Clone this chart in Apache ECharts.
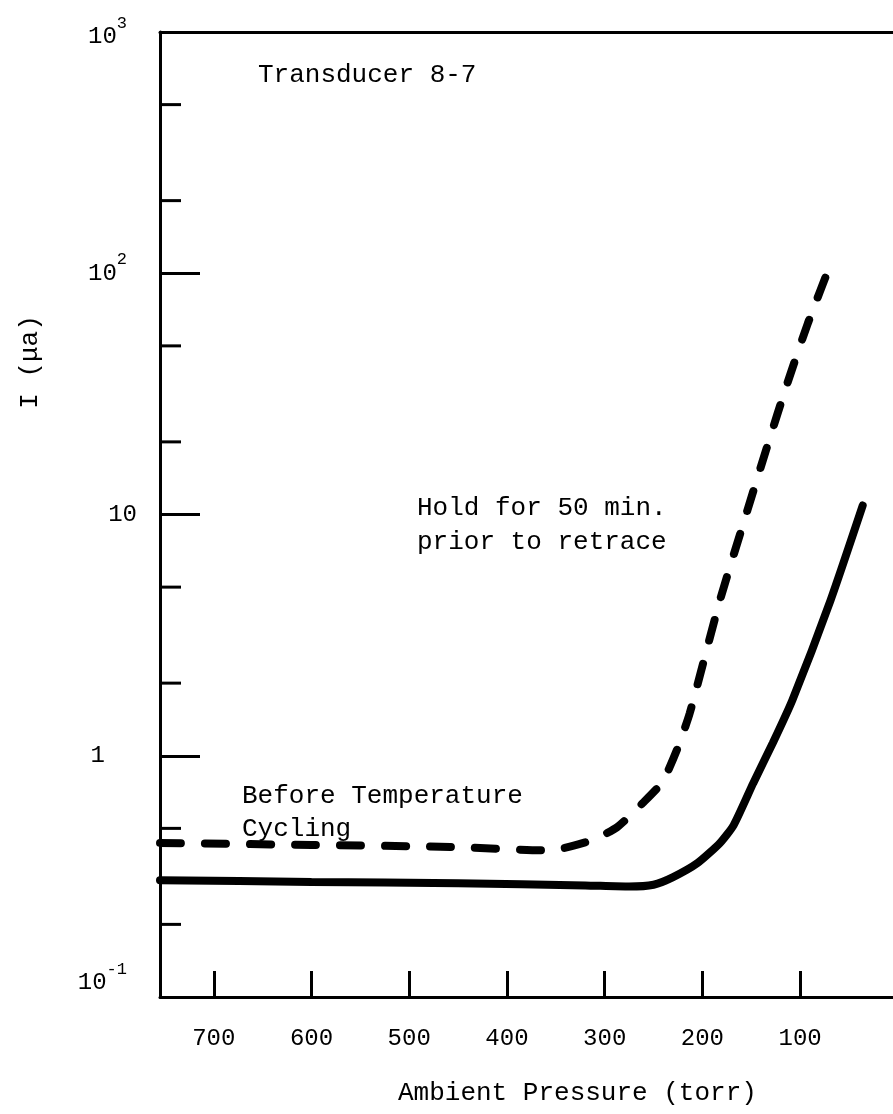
<!DOCTYPE html>
<html>
<head>
<meta charset="utf-8">
<script src="https://cdn.jsdelivr.net/npm/echarts@6/dist/echarts.min.js"></script>
<style>
html, body { margin: 0; padding: 0; background: #fff; }
#container1 { width: 893px; height: 1114px; }
</style>
</head>
<body>
<div id="container1"></div>
<script>
// pressure (torr), I in microamps
var solidPressure = [755, 600, 450, 320, 275, 250, 230, 205, 182, 168, 148, 128, 108, 69, 36];
var solidCurrent  = [0.305, 0.300, 0.296, 0.290, 0.287, 0.292, 0.314, 0.359, 0.435, 0.516, 0.77, 1.13, 1.70, 4.4, 10.9];

var dashPressure = [755, 600, 458, 364, 341, 312, 287, 261, 241, 226, 213, 182, 154, 134, 113, 92, 66];
var dashCurrent  = [0.435, 0.427, 0.419, 0.406, 0.415, 0.448, 0.507, 0.637, 0.778, 1.06, 1.50, 4.42, 10.4, 19.0, 35.1, 62.2, 117];

var xTicks = [700, 600, 500, 400, 300, 200, 100];
var yMinorTicks = [0.2, 0.5, 2, 5, 20, 50, 200, 500];

var font = '"Liberation Mono", "DejaVu Sans Mono", monospace';

function pairs(xs, ys) {
    var out = [];
    for (var i = 0; i < xs.length; i++) {
        out.push([xs[i], ys[i]]);
    }
    return out;
}

var dom1 = document.getElementById("container1");
var myChart1 = echarts.init(dom1);
var option;
option = {
    animation: false,
    backgroundColor: '#fff',
    grid: {
        left: 160,
        right: 0,
        top: 32,
        bottom: 117
    },
    xAxis: [
        {
            type: 'value',
            inverse: true,
            min: 5,
            max: 755,
            axisLine: { onZero: false, lineStyle: { color: '#000', width: 3 } },
            axisTick: { inside: true, length: 26, customValues: xTicks, lineStyle: { color: '#000', width: 3 } },
            axisLabel: {
                margin: 30,
                color: '#000',
                fontFamily: font,
                fontSize: 24,
                customValues: xTicks
            },
            splitLine: { show: false }
        },
        {
            type: 'value',
            position: 'top',
            inverse: true,
            min: 5,
            max: 755,
            axisLine: { show: true, onZero: false, lineStyle: { color: '#000', width: 3 } },
            axisTick: { show: false },
            axisLabel: { show: false },
            splitLine: { show: false }
        }
    ],
    yAxis: {
        type: 'log',
        logBase: 10,
        position: 'left',
        min: 0.1,
        max: 1000,
        splitNumber: 4,
        axisLine: { show: true, onZero: false, lineStyle: { color: '#000', width: 3 } },
        axisTick: { inside: true, length: 40, lineStyle: { color: '#000', width: 3 } },
        axisLabel: {
            margin: 23,
            color: '#000',
            fontFamily: font,
            fontSize: 24,
            formatter: function (v) {
                if (v < 0.5) return '{lo|10}{los|-1}';
                if (v < 5) return '{o|1}';
                if (v < 50) return '{b|10}';
                if (v < 500) return '{b|10}{s|2}';
                return '{hi|10}{his|3}';
            },
            rich: {
                b: { fontFamily: font, fontSize: 24, color: '#000' },
                o: { fontFamily: font, fontSize: 24, color: '#000', padding: [0, 32, 0, 0] },
                s: { fontFamily: font, fontSize: 17, color: '#000', padding: [0, 10, 28, 0] },
                lo: { fontFamily: font, fontSize: 24, color: '#000', padding: [0, 0, 28, 0] },
                los: { fontFamily: font, fontSize: 17, color: '#000', padding: [0, 10, 56, 0] },
                hi: { fontFamily: font, fontSize: 24, color: '#000', padding: [10, 0, 0, 0] },
                his: { fontFamily: font, fontSize: 17, color: '#000', padding: [0, 10, 18, 0] }
            }
        },
        splitLine: { show: false }
    },
    series: [
        {
            name: 'solid',
            type: 'line',
            data: pairs(solidPressure, solidCurrent),
            showSymbol: false,
            symbol: 'none',
            smooth: 0.2,
            lineStyle: { color: '#000', width: 8, cap: 'round' }
        },
        {
            name: 'dashed',
            type: 'line',
            data: pairs(dashPressure, dashCurrent),
            showSymbol: false,
            symbol: 'none',
            smooth: 0.2,
            lineStyle: { color: '#000', width: 8, type: [21, 24], cap: 'round' }
        }
    ]
};

if (option && typeof option === 'object') {
    myChart1.setOption(option);
}

// minor ticks at 2 and 5 of each decade, plus the text on the page
var graphics = [];
for (var i = 0; i < yMinorTicks.length; i++) {
    var py = myChart1.convertToPixel({ yAxisIndex: 0 }, yMinorTicks[i]);
    graphics.push({
        type: 'line',
        shape: { x1: 160, y1: py, x2: 181, y2: py },
        style: { stroke: '#000', lineWidth: 3 }
    });
}
function txt(s, x, y) {
    return {
        type: 'text',
        x: x,
        y: y,
        style: {
            text: s,
            fill: '#000',
            font: '26px ' + font,
            textVerticalAlign: 'middle'
        }
    };
}
graphics.push(txt('Transducer 8-7', 258, 75));
graphics.push(txt('Hold for 50 min.', 417, 508));
graphics.push(txt('prior to retrace', 417, 542));
graphics.push(txt('Before Temperature', 242, 796));
graphics.push(txt('Cycling', 242, 829));
graphics.push(txt('Ambient Pressure (torr)', 398, 1093));
graphics.push({
    type: 'text',
    x: 30,
    y: 362,
    rotation: Math.PI / 2,
    style: {
        text: 'I (μa)',
        fill: '#000',
        font: '26px ' + font,
        textAlign: 'center',
        textVerticalAlign: 'middle'
    }
});
myChart1.setOption({ graphic: graphics });
</script>
</body>
</html>
